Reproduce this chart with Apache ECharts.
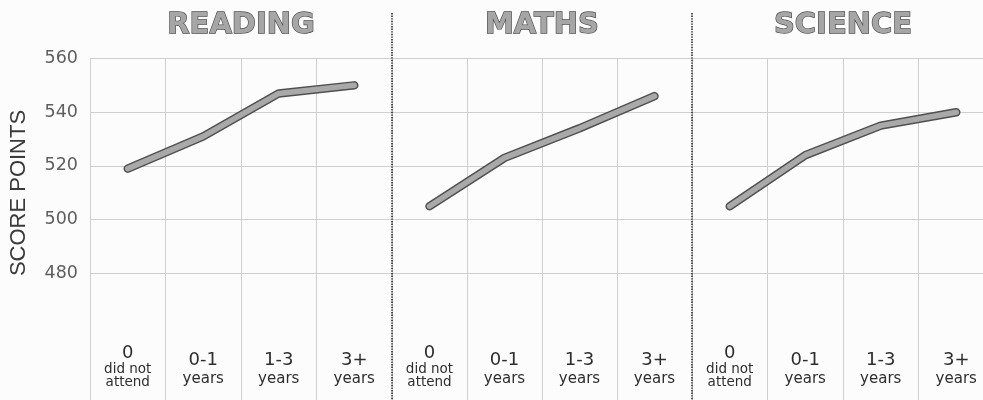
<!DOCTYPE html>
<html>
<head>
<meta charset="utf-8">
<script src="https://cdn.jsdelivr.net/npm/echarts@6/dist/echarts.min.js"></script>
<style>html,body{margin:0;padding:0;background:#fcfcfc}#c{width:983px;height:400px}</style>
</head>
<body>
<div id="c"></div>
<script>
const panels = ['READING', 'MATHS', 'SCIENCE'];
const categories = ['0', '0-1', '1-3', '3+'];
const categorySubs = ['did not\nattend', 'years', 'years', 'years'];
const reading = [519, 531, 547, 550];
const maths = [505, 523, 534, 546];
const science = [505, 524, 535, 540];
const yTicks = [480, 500, 520, 540, 560];
const yAxisName = 'SCORE POINTS';

const seriesData = [reading, maths, science];
const gridLefts = [90, 392, 692];
const gridWidths = [302, 300, 302];
const gridTop = 58.5;
const gridHeight = 376;
const yMin = 420, yMax = 560, yStep = 20;

const chart = echarts.init(document.getElementById('c'), null, {renderer: 'canvas'});

const labelFont = 'DejaVu Sans';
const gridColor = '#cfcfcf';

function lineColors() {
  const arr = [];
  for (let v = yMin; v <= yMax; v += yStep) arr.push(yTicks.indexOf(v) >= 0 ? gridColor : 'rgba(0,0,0,0)');
  return arr;
}

const grids = [], xAxes = [], yAxes = [], series = [], titles = [];
panels.forEach((p, i) => {
  grids.push({left: gridLefts[i], width: gridWidths[i], top: gridTop, height: gridHeight,
    containLabel: false, outerBoundsMode: 'none'});
  titles.push({
    text: p, left: gridLefts[i] + gridWidths[i] / 2, top: 11, padding: 0, textAlign: 'center',
    textStyle: {fontFamily: 'DejaVu Sans', fontWeight: 'bold', fontSize: 29, color: '#a6a6a6',
      textBorderColor: '#4d4d4d', textBorderWidth: 1.3}
  });
  xAxes.push({
    type: 'category', gridIndex: i, data: categories, boundaryGap: true,
    axisLine: {show: false}, axisTick: {show: false},
    splitLine: {show: true, lineStyle: {color: gridColor, width: 1}},
    axisLabel: {
      interval: 0, margin: -45.5, verticalAlign: 'bottom', color: '#2e2e2e', fontFamily: labelFont,
      formatter: (v, idx) => {
        const sub = categorySubs[idx].split('\n');
        const style = idx === 0 ? 's' : 'y';
        return '{n|' + v + '}\n' + sub.map(s => '{' + style + '|' + s + '}').join('\n');
      },
      rich: {
        n: {fontFamily: labelFont, fontSize: 18, lineHeight: 20, color: '#2e2e2e', align: 'center'},
        s: {fontFamily: labelFont, fontSize: 13.5, lineHeight: 13, color: '#2e2e2e', align: 'center'},
        y: {fontFamily: labelFont, fontSize: 15, lineHeight: 19, color: '#2e2e2e', align: 'center'}
      }
    }
  });
  yAxes.push({
    type: 'value', gridIndex: i, min: yMin, max: yMax, interval: yStep,
    axisLine: {show: false}, axisTick: {show: false},
    axisLabel: {
      show: i === 0, margin: 12, fontFamily: labelFont, fontSize: 17.5, color: '#5e5e5e',
      formatter: v => (yTicks.indexOf(v) >= 0 ? String(v) : '')
    },
    splitLine: {show: true, lineStyle: {color: lineColors(), width: 1}}
  });
  series.push({
    type: 'line', xAxisIndex: i, yAxisIndex: i, data: seriesData[i], symbol: 'none', silent: true,
    lineStyle: {color: '#505050', width: 8.5, cap: 'round', join: 'round'}, z: 2
  });
  series.push({
    type: 'line', xAxisIndex: i, yAxisIndex: i, data: seriesData[i], symbol: 'none', silent: true,
    lineStyle: {color: '#a9a9a9', width: 5.5, cap: 'round', join: 'round'}, z: 3
  });
});

const graphics = [];
[gridLefts[1], gridLefts[2]].forEach(x => {
  graphics.push({
    type: 'line', shape: {x1: x, y1: 13, x2: x, y2: 400},
    style: {stroke: '#2a2a2a', lineWidth: 1.6, lineDash: [1.4, 1.2]}, z: 10
  });
});
graphics.push({
  type: 'text', x: 19, y: 193, rotation: Math.PI / 2,
  style: {text: yAxisName, font: '22px "Liberation Sans"', fill: '#3a3a3a', align: 'center', verticalAlign: 'middle'}
});

chart.setOption({
  backgroundColor: '#fcfcfc',
  animation: false,
  title: titles,
  grid: grids,
  xAxis: xAxes,
  yAxis: yAxes,
  series: series,
  graphic: graphics
});
</script>
</body>
</html>
